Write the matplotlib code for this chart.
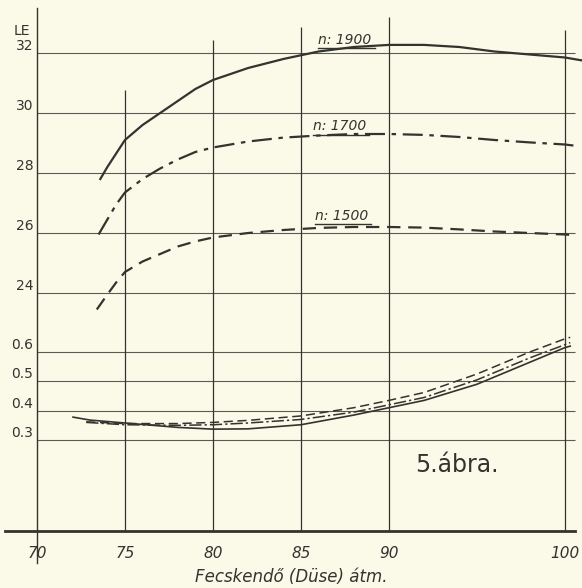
import numpy as np
import matplotlib.pyplot as plt
from matplotlib.lines import Line2D
from matplotlib.transforms import IdentityTransform

plt.rcParams['font.family'] = ['DejaVu Sans']

# Teljesítmény (LE) a fecskendő átmérő függvényében
x_1900 = [73.6, 74, 74.5, 75, 76, 77, 78, 79, 80, 82, 84, 86, 88, 90, 92, 94, 96, 98, 100, 101]
le_1900 = [27.8, 28.2, 28.65, 29.1, 29.6, 30.0, 30.4, 30.8, 31.1, 31.5, 31.8, 32.05, 32.2, 32.27,
           32.27, 32.2, 32.05, 31.95, 31.85, 31.75]

x_1700 = [73.5, 74, 74.5, 75, 76, 77, 78, 79, 80, 82, 84, 86, 88, 90, 92, 94, 96, 98, 100, 100.7]
le_1700 = [25.95, 26.45, 26.95, 27.35, 27.8, 28.15, 28.45, 28.7, 28.85, 29.05, 29.18, 29.25, 29.3,
           29.3, 29.27, 29.2, 29.1, 29.02, 28.95, 28.9]

x_1500 = [73.4, 74, 74.5, 75, 76, 77, 78, 79, 80, 82, 84, 86, 88, 90, 92, 94, 96, 98, 100, 100.45]
le_1500 = [23.45, 23.95, 24.35, 24.7, 25.05, 25.3, 25.55, 25.72, 25.85, 26.0, 26.1, 26.17, 26.2,
           26.2, 26.18, 26.12, 26.05, 26.0, 25.95, 25.93]

# fogyasztás (alsó görbék)
x_fogy_1900 = [72.05, 73, 75, 78, 80, 82, 85, 88, 90, 92, 95, 98, 100, 100.3]
fogy_1900 = [0.378, 0.368, 0.358, 0.343, 0.337, 0.338, 0.352, 0.385, 0.41, 0.435, 0.49, 0.565, 0.615, 0.62]
x_fogy_1700 = [72.8, 75, 78, 80, 82, 85, 88, 90, 92, 95, 98, 100, 100.3]
fogy_1700 = [0.36, 0.352, 0.35, 0.352, 0.358, 0.37, 0.395, 0.42, 0.445, 0.505, 0.58, 0.625, 0.632]
x_fogy_1500 = [72.8, 75, 78, 80, 82, 85, 88, 90, 92, 95, 98, 100, 100.3]
fogy_1500 = [0.362, 0.356, 0.356, 0.36, 0.367, 0.382, 0.41, 0.435, 0.462, 0.525, 0.6, 0.645, 0.65]

le_ticks = [32, 30, 28, 26, 24]
fogy_ticks = [0.6, 0.5, 0.4, 0.3]
fogy_labels = ['0.6', '0.5', '0.4', '0.3']
x_ticks = [70, 75, 80, 85, 90, 100]
vonal_teteje = [30.77, 32.43, 32.87, 33.2, 32.77]  # függőleges rácsvonalak felső vége

# két tartomány egy tengelyen: LE fent, fogyasztás lent
v_pts = [-1.0, 0.7, 23.1, 40.0]
u_pts = [101 - 1.3 * 293.3, 101 + 0.4 * 293.3, 221.0, 248 + 16 * 30]

def forward(v):
    return np.interp(v, v_pts, u_pts)

def inverse(u):
    return np.interp(u, u_pts, v_pts)

bg = '#fbf9e8'
ink = '#33332f'

fig = plt.figure(figsize=(5.82, 5.88), dpi=100, facecolor=bg)
ax = fig.add_axes([0, 57 / 588, 1, 523 / 588], facecolor=bg)
ax.set_yscale('function', functions=(forward, inverse))
ax.set_xlim(67.9, 100.97)
y_bot = inverse(10)
y_top = inverse(533)
ax.set_ylim(y_bot, y_top)

# rácsvonalak
ax.hlines(le_ticks + fogy_ticks, 70, 100.6, color=ink, lw=0.8, alpha=0.8)
ax.vlines(x_ticks[1:], y_bot, vonal_teteje, color=ink, lw=0.9)
ax.axvline(70, ymin=-0.061, ymax=1, color=ink, lw=1.0, clip_on=False)

for s in ['top', 'right', 'left']:
    ax.spines[s].set_visible(False)
ax.spines['bottom'].set_bounds(68.18, 100.57)
ax.spines['bottom'].set_linewidth(2.0)
ax.spines['bottom'].set_color(ink)

# görbék
ax.plot(x_1900, le_1900, color=ink, lw=1.6)
ax.plot(x_1700, le_1700, color=ink, lw=1.6, dashes=(9, 3, 2, 3))
ax.plot(x_1500, le_1500, color=ink, lw=1.6, dashes=(6, 3.5))
ax.plot(x_fogy_1900, fogy_1900, color=ink, lw=1.2)
ax.plot(x_fogy_1700, fogy_1700, color=ink, lw=1.1, dashes=(8, 2, 1.5, 2))
ax.plot(x_fogy_1500, fogy_1500, color=ink, lw=1.1, dashes=(6, 3))

n_cimkek = [
    ax.text(87.5, 32.42, 'n: 1900', ha='center', va='center', fontsize=10, style='italic', color=ink),
    ax.text(87.2, 29.55, 'n: 1700', ha='center', va='center', fontsize=10, style='italic', color=ink),
    ax.text(87.3, 26.58, 'n: 1500', ha='center', va='center', fontsize=10, style='italic', color=ink),
]

# tengelyfeliratok
for t in le_ticks:
    ax.text(69.8, t, str(t), ha='right', va='bottom', fontsize=10, color=ink)
for t, lab in zip(fogy_ticks, fogy_labels):
    ax.text(69.8, t, lab, ha='right', va='bottom', fontsize=10, color=ink)
ax.text(69.15, 32.73, 'LE', ha='center', va='center', fontsize=10, color=ink)

ax.set_yticks([])
ax.set_xticks(x_ticks)
ax.set_xticklabels([str(t) for t in x_ticks], fontsize=11, style='italic', color=ink)
ax.tick_params(axis='x', length=0, pad=11)
ax.set_xlabel('Fecskendő (Düse) átm.', fontsize=12, style='italic', color=ink, labelpad=5)

ax.text(93.86, inverse(76), '5.ábra.', ha='center', va='center', fontsize=17, color=ink)

# aláhúzás a fordulatszám feliratok alatt
fig.canvas.draw()
for t in n_cimkek:
    bb = t.get_window_extent()
    fig.add_artist(Line2D([bb.x0, bb.x1 + 3], [bb.y0 - 1, bb.y0 - 1], transform=IdentityTransform(),
                          color=ink, lw=1.0))

fig.savefig('out.png', dpi=100, facecolor=bg)
